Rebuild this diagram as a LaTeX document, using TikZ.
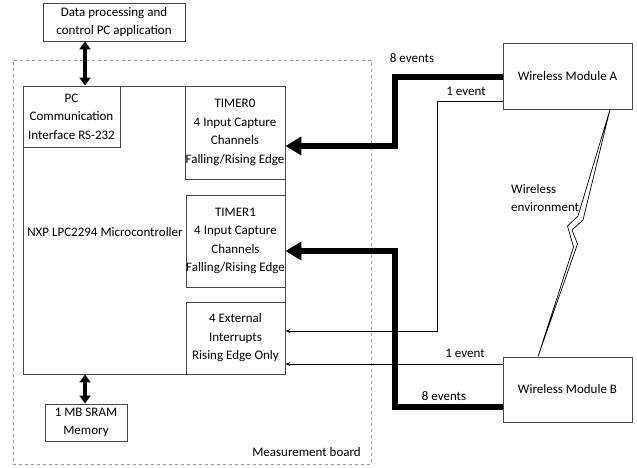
\documentclass[tikz,border=0pt]{standalone}
\usepackage{fontspec}
\setmainfont{Carlito}
\usetikzlibrary{arrows.meta,calc}
\begin{document}
\begin{tikzpicture}[x=1pt,y=-1pt,
  box/.style={draw=black!72, line width=0.9pt, inner sep=0pt, align=center, font=\fontsize{13}{18.5}\selectfont},
  lbl/.style={inner sep=0pt, font=\fontsize{13}{18.5}\selectfont, align=center},
  thickarr/.style={line width=6pt, miter limit=10, -{Triangle[length=16pt,width=18pt]}},
  thinarr/.style={line width=0.8pt, -{Stealth[length=5pt,width=4pt]}},
  dblarr/.style={line width=3.5pt, {Triangle[length=8pt,width=11pt]}-{Triangle[length=8pt,width=11pt]}}]
\useasboundingbox (0,0) rectangle (637,467);
% boxes
\node[box, minimum width=142pt, minimum height=38pt] (app) at (114,22) {Data processing and\\control PC application};
\node[draw=black!40, dashed, line width=0.8pt, minimum width=358pt, minimum height=404pt, inner sep=0pt] (board) at (192,262) {};
\node[box, minimum width=262pt, minimum height=288pt] (main) at (154,230) {};
\node[box, minimum width=97pt, minimum height=61pt] (pccomm) at (71.5,116.5) {PC\\Communication\\Interface RS-232};
\node[box, minimum width=100pt, minimum height=93pt] (timer0) at (235,132.5) {TIMER0\\4 Input Capture\\Channels\\Falling/Rising Edge};
\node[box, minimum width=99pt, minimum height=92pt] (timer1) at (235.5,241) {TIMER1\\4 Input Capture\\Channels\\Falling/Rising Edge};
\node[box, minimum width=99pt, minimum height=72pt] (intr) at (235.5,338) {4 External\\Interrupts\\Rising Edge Only};
\node[box, minimum width=82pt, minimum height=37pt] (sram) at (86,422.5) {1 MB SRAM\\Memory};
\node[box, minimum width=129pt, minimum height=66pt] (modA) at (567.5,76) {Wireless Module A};
\node[box, minimum width=129pt, minimum height=65pt] (modB) at (567.5,389.5) {Wireless Module B};
% labels
\node[lbl] (mcu) at (105,232) {NXP LPC2294 Microcontroller};
\node[lbl, anchor=east] (mb) at (361,452) {Measurement board};
\node[lbl, anchor=west, align=left] (wenv) at (511,198) {Wireless\\environment};
\node[lbl] (l8a) at (412,58) {8 events};
\node[lbl] (l1a) at (466,91) {1 event};
\node[lbl] (l1b) at (465,353) {1 event};
\node[lbl] (l8b) at (444,396) {8 events};
% bend coordinates
\coordinate (a8x) at (395,77);
\coordinate (a1x) at (437,101);
\coordinate (b8x) at (395,407);
% connectors
\draw[thickarr] (modA.west |- a8x) -- (a8x) |- (timer0.east |- 0,146);
\draw[thinarr] (modA.west |- a1x) -- (a1x) |- (intr.east |- 0,331);
\draw[thinarr] (modB.west |- 0,364) -- (intr.east |- 0,364);
\draw[thickarr] (modB.west |- b8x) -- (b8x) |- (timer1.east |- 0,251);
\draw[dblarr] (app.south -| 85,0) -- (pccomm.north -| 85,0);
\draw[dblarr] (main.south -| 85,0) -- (sram.north -| 85,0);
% wireless link (lightning)
\draw[line width=0.7pt, fill=white, line join=miter]
  (modA.south -| 610,0) -- (578,216) -- (567.5,226) -- (573.5,247) -- (modB.north -| 538,0)
  -- (577.5,244) -- (572,230) -- (583,220) -- cycle;
\end{tikzpicture}
\end{document}
